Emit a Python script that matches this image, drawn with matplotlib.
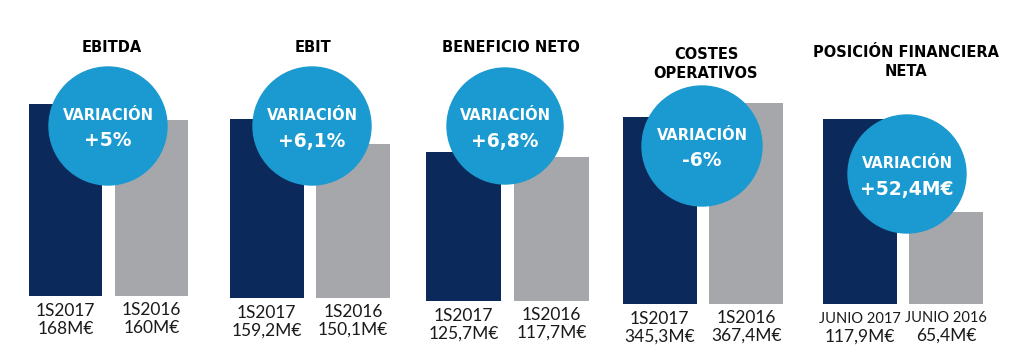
import numpy as np
import matplotlib
matplotlib.use("Agg")
import matplotlib.pyplot as plt
from matplotlib.patches import Circle

# ---- data ----
titles = ["EBITDA", "EBIT", "BENEFICIO NETO", "COSTES\nOPERATIVOS", "POSICIÓN FINANCIERA\nNETA"]
values_2017 = [168.0, 159.2, 125.7, 345.3, 117.9]
values_2016 = [160.0, 150.1, 117.7, 367.4, 65.4]
period_2017 = ["1S2017", "1S2017", "1S2017", "1S2017", "JUNIO 2017"]
period_2016 = ["1S2016", "1S2016", "1S2016", "1S2016", "JUNIO 2016"]
value_labels_2017 = ["168M€", "159,2M€", "125,7M€", "345,3M€", "117,9M€"]
value_labels_2016 = ["160M€", "150,1M€", "117,7M€", "367,4M€", "65,4M€"]
variations = ["+5%", "+6,1%", "+6,8%", "-6%", "+52,4M€"]

# ---- style / layout ----
NAVY = "#0b2a5b"
GRAY = "#a6a7ab"
CYAN = "#1a9ad0"
plt.rcParams['font.family'] = ['Lato', 'DejaVu Sans']
BOLD_FAMILY = ['DejaVu Sans']

W, H = 1024, 358
fig = plt.figure(figsize=(W / 100, H / 100), dpi=100)
fig.patch.set_facecolor("white")

# panel geometry in pixels: left, right, baseline
panels_px = [(29, 188, 296), (230, 390, 298), (426, 589, 301), (623, 783, 304), (823, 983, 304)]
AX_TOP = 40
# per-panel value range (schematic scale of each panel)
y_ranges = [(72.0, 200.0), (94.0, 187.9), (-112.7, 304.9), (50.1, 466.8), (13.5, 162.5)]
bar_w = 0.85
circles_px = [(108, 126, 59), (312, 126, 59), (505, 126, 58), (702, 146, 60), (907, 174, 59)]
title_y = [47, 47, 48, 64, 62]
period_font = [12.5, 12.5, 12.5, 12.5, 10.5]

for i in range(5):
    l, r, base = panels_px[i]
    ax = fig.add_axes([l / W, 1 - base / H, (r - l) / W, (base - AX_TOP) / H])
    lo, hi = y_ranges[i]
    vals = np.array([values_2017[i], values_2016[i]])
    ax.bar([0, 1], vals - lo, bottom=lo, width=bar_w, color=[NAVY, GRAY])
    ax.set_xlim(-bar_w / 2, 1 + bar_w / 2)
    ax.set_ylim(lo, hi)
    ax.axis("off")

# overlay for circles and text in pixel coordinates
ov = fig.add_axes([0, 0, 1, 1], zorder=5)
ov.set_xlim(0, W)
ov.set_ylim(H, 0)
ov.axis("off")
ov.patch.set_alpha(0)

for i in range(5):
    l, r, base = panels_px[i]
    cx, cy, rad = circles_px[i]
    ov.add_patch(Circle((cx, cy), rad, color=CYAN, zorder=2))
    ov.text(cx, cy - 11, "VARIACIÓN", color="white", fontsize=10.5, fontweight="bold",
            family=BOLD_FAMILY, ha="center", va="center", zorder=3)
    ov.text(cx, cy + 15, variations[i], color="white", fontsize=13.5, fontweight="bold",
            family=BOLD_FAMILY, ha="center", va="center", zorder=3)
    ov.text((l + r) / 2 + 3, title_y[i], titles[i], color="black", fontsize=10.5,
            fontweight="bold", family=BOLD_FAMILY, ha="center", va="center", linespacing=1.3)
    span = r - l
    x1 = l + span * (bar_w / 2) / (1 + bar_w)
    x2 = l + span * (1 + bar_w / 2) / (1 + bar_w)
    fs = period_font[i]
    ov.text(x1, base + 15, period_2017[i], fontsize=fs, ha="center", va="center", color="#1a1a1a")
    ov.text(x2, base + 14, period_2016[i], fontsize=fs, ha="center", va="center", color="#1a1a1a")
    ov.text(x1, base + 33, value_labels_2017[i], fontsize=12.5, ha="center", va="center", color="#1a1a1a")
    ov.text(x2, base + 32, value_labels_2016[i], fontsize=12.5, ha="center", va="center", color="#1a1a1a")

fig.savefig("out.png", dpi=100, facecolor="white")
